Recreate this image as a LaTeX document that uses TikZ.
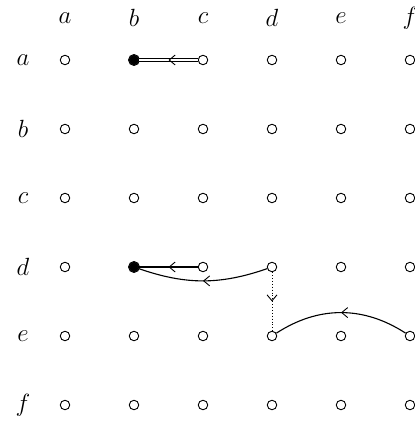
\documentclass[tikz,border=0pt]{standalone}
\usetikzlibrary{arrows.meta,decorations.markings}
\begin{document}
\begin{tikzpicture}[x=1pt,y=-1pt,
  pt/.style={circle,draw,line width=0.9pt,minimum size=9.5pt,inner sep=0pt},
  fpt/.style={pt,fill=black},
  lab/.style={font=\fontsize{25}{28}\selectfont},
  midarrow/.style={decoration={markings,mark=at position 0.5 with {\arrow[line width=0.9pt]{Straight Barb[length=6pt,width=10pt]}}},postaction={decorate}},
  conn/.style={line width=1.1pt}]
\useasboundingbox (0,0) rectangle (414,422);
\foreach \l [count=\i from 0] in {a,b,c,d,e,f}{
  \node[lab] (col-\l) at (65+69*\i,18) {$\l$};
  \node[lab] (row-\l) at (23,60+69*\i) {$\l$};
}
\foreach \c [count=\i from 0] in {a,b,c,d,e,f}{
  \foreach \r [count=\j from 0] in {a,b,c,d,e,f}{
    \node[pt] (\c\r) at (65+69*\i,60+69*\j) {};
  }
}
\node[fpt,minimum size=8pt] at (ba) {};
\node[fpt,minimum size=8pt] at (bd) {};
\draw[pt,fill=none] (ba.center) circle (5.5pt);
\draw[pt,fill=none] (bd.center) circle (5.5pt);
% row a: double line c -> b
\draw[line width=0.9pt,double,double distance=2.6pt] (ca) -- (ba);
\path[midarrow] (ca) -- (ba);
% row d
\draw[conn,line width=1.5pt,midarrow] (cd) -- (bd);
\draw[conn,midarrow] (dd) to[bend left=19] (bd);
\draw[line width=0.9pt,dotted,midarrow] (dd) -- (de);
\draw[conn,midarrow] (fe) to[bend right=33] (de);
\end{tikzpicture}
\end{document}
